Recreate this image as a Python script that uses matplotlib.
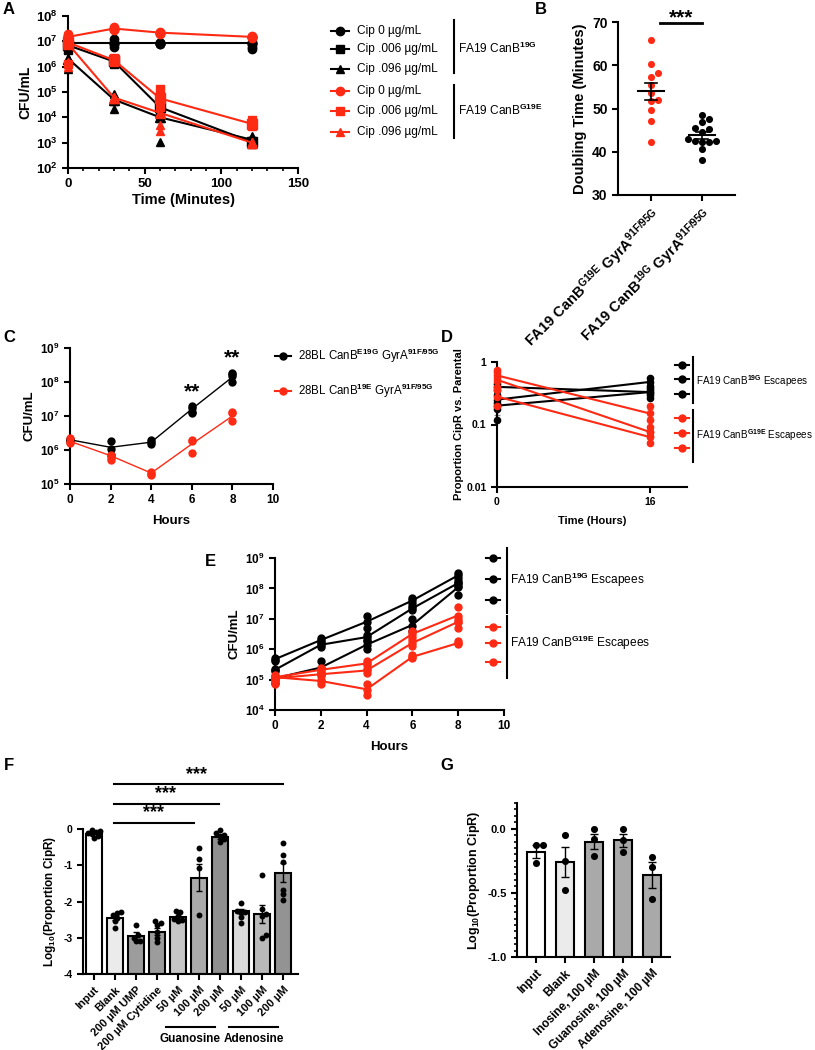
"""
Multi-panel figure: CanB / GyrA growth and CipR assays (panels A-G)
"""

import numpy as np
import matplotlib
matplotlib.use("Agg")
import matplotlib.pyplot as plt
from matplotlib.ticker import FixedLocator, FuncFormatter, NullLocator, MultipleLocator

plt.rcParams['font.family'] = ['Liberation Sans', 'DejaVu Sans']
plt.rcParams['font.weight'] = 'bold'
plt.rcParams['mathtext.fontset'] = 'custom'
plt.rcParams['mathtext.rm'] = 'Liberation Sans'
plt.rcParams['mathtext.bf'] = 'Liberation Sans:bold'
plt.rcParams['mathtext.it'] = 'Liberation Sans:italic'
plt.rcParams['axes.unicode_minus'] = False
plt.rcParams['axes.facecolor'] = 'none'

RED = '#fe2a14'
W, H = 815, 1050

# ---------------- Datos ----------------
# A: time-kill (CFU/mL)
a_time = [0, 30, 60, 120]
a_labels = ['Cip 0 µg/mL', 'Cip .006 µg/mL', 'Cip .096 µg/mL']
a_19g_mean = [[8.5e6, 8.5e6, 8.5e6, 8.5e6],
              [7.0e6, 1.6e6, 2.5e4, 1.05e3],
              [2.1e6, 5.0e4, 1.0e4, 1.3e3]]
a_19g_reps = [[[1.0e7, 8e6, 6e6], [1.2e7, 8e6, 6e6], [8.5e6, 8e6, 7.8e6], [1.5e7, 8e6, 6e6, 4.8e6]],
              [[8e6, 6e6, 4.5e6], [2e6, 1.6e6, 1.3e6], [4e4, 2.5e4, 1.5e4], [1.2e3, 1.0e3, 9e2]],
              [[2.2e6, 1.5e6, 8e5], [8e4, 4.5e4, 2.2e4], [1.2e4, 9e3, 1.1e3], [1.8e3, 1.3e3, 1.0e3]]]
a_g19e_mean = [[1.5e7, 3.2e7, 2.2e7, 1.5e7],
               [9.0e6, 1.8e6, 5.6e4, 5.5e3],
               [8.0e6, 6.0e4, 1.5e4, 1.0e3]]
a_g19e_reps = [[[1.9e7, 1.6e7, 1.4e7], [3.8e7, 3.2e7, 2.8e7], [2.4e7, 2.2e7, 2.0e7], [1.6e7, 1.5e7, 1.4e7]],
               [[1.2e7, 9e6, 1.3e6], [2.2e6, 1.8e6, 1.5e6], [1.3e5, 4.5e4, 2.5e4], [8e3, 6e3, 4.5e3]],
               [[1.5e6, 1e6, 8e6], [6.5e4, 6e4, 5.5e4], [1.5e4, 5e3, 3e3], [1.1e3, 1.0e3, 9e2]]]

# B: doubling time (minutes)
b_labels = ['FA19 CanB$^{\\mathbf{G19E}}$ GyrA$^{\\mathbf{91F/95G}}$',
            'FA19 CanB$^{\\mathbf{19G}}$ GyrA$^{\\mathbf{91F/95G}}$']
b_g19e = [65.8, 60.3, 58.3, 57.2, 55.5, 53.6, 52.0, 51.8, 49.7, 47.0, 42.3]
b_19g = [48.5, 47.6, 46.8, 45.4, 45.3, 44.6, 43.0, 42.6, 42.4, 42.3, 42.2, 40.6, 38.0]

# C: 28BL growth curves
c_hours = [0, 2, 4, 6, 8]
c_labels = ['28BL CanB$^{\\mathrm{E19G}}$ GyrA$^{\\mathrm{91F/95G}}$',
            '28BL CanB$^{\\mathrm{19E}}$ GyrA$^{\\mathrm{91F/95G}}$']
c_black_mean = [2.0e6, 1.2e6, 1.7e6, 1.6e7, 1.4e8]
c_black_reps = [[2.1e6, 1.9e6, 2.0e6], [1.8e6, 1.1e6, 7e5], [2.0e6, 1.7e6, 1.5e6],
                [2.0e7, 1.7e7, 1.3e7, 1.2e7], [1.9e8, 1.7e8, 1.5e8, 1.0e8]]
c_red_mean = [1.8e6, 6.8e5, 2.1e5, 1.5e6, 1.0e7]
c_red_reps = [[2.2e6, 1.7e6, 1.6e6], [7e5, 6e5, 5e5], [2.3e5, 2.0e5, 1.9e5],
              [2.0e6, 1.8e6, 8e5], [1.3e7, 1.2e7, 7e6]]

# D: proportion CipR vs parental, 3 escapees per background
d_time = [0, 16]
d_black_mean = [[0.40, 0.33], [0.25, 0.48], [0.20, 0.33]]
d_black_reps = [[[0.45, 0.40, 0.35], [0.36, 0.33, 0.30]],
                [[0.30, 0.25, 0.20], [0.55, 0.48, 0.42]],
                [[0.22, 0.18, 0.12], [0.38, 0.32, 0.27]]]
d_red_mean = [[0.61, 0.15], [0.52, 0.076], [0.28, 0.063]]
d_red_reps = [[[0.75, 0.62, 0.50], [0.20, 0.15, 0.12]],
              [[0.70, 0.55, 0.40], [0.09, 0.075, 0.065]],
              [[0.35, 0.28, 0.20], [0.075, 0.062, 0.05]]]

# E: escapee growth curves
e_hours = [0, 2, 4, 6, 8]
e_black_mean = [[4.7e5, 2.0e6, 8e6, 4e7, 2.7e8],
                [2.1e5, 1.4e6, 2.5e6, 2.2e7, 1.5e8],
                [1.1e5, 2.5e5, 1.4e6, 6.3e6, 1.1e8]]
e_black_reps = [[[5e5, 4.5e5, 4.2e5], [2.4e6, 2.0e6, 1.7e6], [1.2e7, 8e6, 5e6], [5e7, 4e7, 3.2e7], [3.2e8, 2.7e8, 2.2e8]],
                [[2.2e5, 2e5, 1.9e5], [1.6e6, 1.4e6, 1.2e6], [3e6, 2.5e6, 2e6], [2.6e7, 2.2e7, 1.9e7], [1.8e8, 1.5e8, 1.2e8]],
                [[1.2e5, 1.1e5, 8e4], [4e5, 2.5e5, 1.5e5], [1.8e6, 1.4e6, 1e6], [1e7, 6e6, 4e6], [1.5e8, 1.1e8, 6e7]]]
e_red_mean = [[1.2e5, 2.1e5, 3.4e5, 3.2e6, 1.3e7],
              [1.1e5, 1.5e5, 2.0e5, 1.6e6, 8e6],
              [1.2e5, 9e4, 4.8e4, 5.6e5, 1.6e6]]
e_red_reps = [[[1.4e5, 1.2e5, 1.0e5], [2.5e5, 2.1e5, 1.8e5], [4e5, 3.4e5, 3e5], [4e6, 3.2e6, 2.6e6], [2.5e7, 1.2e7, 8e6]],
              [[1.2e5, 1.1e5, 9e4], [1.7e5, 1.5e5, 1.3e5], [2.3e5, 2.0e5, 1.7e5], [2e6, 1.6e6, 1.3e6], [1e7, 8e6, 5e6]],
              [[1.3e5, 1.0e5, 7e4], [1e5, 9e4, 7e4], [7e4, 4.5e4, 3e4], [6.5e5, 5.6e5, 5e5], [1.8e6, 1.6e6, 1.5e6]]]

# F: log10 proportion CipR with nucleosides
f_labels = ['Input', 'Blank', '200 µM UMP', '200 µM Cytidine', '50 µM', '100 µM', '200 µM',
            '50 µM', '100 µM', '200 µM']
f_mean = [-0.13, -2.45, -2.95, -2.83, -2.44, -1.34, -0.22, -2.27, -2.35, -1.20]
f_sem = [0.02, 0.07, 0.10, 0.10, 0.05, 0.38, 0.05, 0.07, 0.25, 0.25]
f_points = [[-0.02, -0.05, -0.09, -0.12, -0.15, -0.19, -0.24],
            [-2.30, -2.33, -2.38, -2.45, -2.55, -2.72],
            [-2.66, -2.92, -3.00, -3.08, -3.10],
            [-2.55, -2.60, -2.65, -2.85, -3.00, -3.12],
            [-2.27, -2.30, -2.40, -2.48, -2.52, -2.55],
            [-0.52, -0.84, -1.08, -2.38],
            [-0.02, -0.12, -0.17, -0.20, -0.28, -0.35],
            [-2.05, -2.25, -2.28, -2.30, -2.42, -2.58],
            [-1.27, -2.20, -2.35, -2.40, -2.92, -3.00],
            [-0.38, -0.72, -0.92, -1.68, -1.80, -1.95]]
f_colors = ['#ffffff', '#ebebeb', '#9c9c9c', '#9c9c9c', '#c6c6c6', '#ababab', '#8f8f8f',
            '#dadada', '#b9b9b9', '#939393']

# G
g_labels = ['Input', 'Blank', 'Inosine, 100 µM', 'Guanosine, 100 µM', 'Adenosine, 100 µM']
g_mean = [-0.18, -0.26, -0.10, -0.09, -0.36]
g_sem = [0.05, 0.12, 0.06, 0.05, 0.10]
g_points = [[-0.13, -0.13, -0.27], [-0.05, -0.25, -0.48], [0.0, -0.08, -0.21],
            [0.0, -0.09, -0.18], [-0.22, -0.30, -0.55]]
g_colors = ['#ffffff', '#ebebeb', '#a9a9a9', '#a9a9a9', '#a9a9a9']


# ---------------- Helpers ----------------
fig = plt.figure(figsize=(W / 100, H / 100), dpi=100)


def px_axes(l, t, r, b):
    return fig.add_axes([l / W, 1 - b / H, (r - l) / W, (b - t) / H])


def estilo(ax, size=9, lw=1.5):
    for s in ['top', 'right']:
        ax.spines[s].set_visible(False)
    for s in ['left', 'bottom']:
        ax.spines[s].set_linewidth(lw)
    ax.tick_params(width=lw, length=4, labelsize=size)
    ax.tick_params(which='minor', width=1.2, length=2.5)


def log_fmt(ax, size):
    ax.yaxis.set_major_formatter(FuncFormatter(lambda v, p: r'$\mathbf{10^{%d}}$' % round(np.log10(v))))
    ax.yaxis.set_minor_locator(NullLocator())
    ax.tick_params(axis='y', labelsize=size)


def swarm(vals, ypx, xpx, d):
    vals = np.asarray(vals, float)
    offs = np.zeros(len(vals))
    placed = []
    for i in np.argsort(vals):
        y = vals[i] * ypx
        k = 0
        while True:
            cands = [0.0] if k == 0 else [k * d * 0.55, -k * d * 0.55]
            ok = None
            for c in cands:
                if all((c - px) ** 2 + (y - py) ** 2 >= d * d for px, py in placed):
                    ok = c
                    break
            if ok is not None:
                placed.append((ok, y))
                offs[i] = ok / xpx
                break
            k += 1
    return offs


ov = fig.add_axes([0, 0, 1, 1])
ov.set_xlim(0, W)
ov.set_ylim(H, 0)
ov.axis('off')
ov.set_zorder(10)


def leg_row(x, y, color, marker, half=9, ms=6):
    ov.plot([x - half, x + half], [y, y], color=color, lw=1.5)
    ov.plot(x, y, marker=marker, color=color, ms=ms)


# panel letters
for letra, x, y in [('A', 9, 9), ('B', 541, 9), ('C', 9, 338), ('D', 447, 338),
                    ('E', 210, 562), ('F', 9, 765), ('G', 447, 765)]:
    ov.text(x, y, letra, fontsize=12, fontweight='bold', ha='center', va='center')

# ---------------- A ----------------
ax = px_axes(68, 16, 298, 168)
estilo(ax, 9.5)
ax.set_yscale('log')
ax.set_ylim(1e2, 1e8)
ax.set_xlim(0, 150)
ax.yaxis.set_major_locator(FixedLocator([10.0 ** k for k in range(2, 9)]))
log_fmt(ax, 9.5)
ax.xaxis.set_major_locator(MultipleLocator(50))
ax.xaxis.set_minor_locator(MultipleLocator(10))
markers = ['o', 's', '^']
for color, means, reps in [('black', a_19g_mean, a_19g_reps), (RED, a_g19e_mean, a_g19e_reps)]:
    for m, mean, rr in zip(markers, means, reps):
        ax.plot(a_time, mean, color=color, marker=m, ms=6.5, lw=1.5, clip_on=False, zorder=3)
        for t, vals in zip(a_time, rr):
            ax.plot([t] * len(vals), vals, ls='none', marker=m, color=color, ms=6, clip_on=False, zorder=3)
ax.set_ylabel('CFU/mL', fontsize=10, fontweight='bold', labelpad=2)
ax.set_xlabel('Time (Minutes)', fontsize=10.5, fontweight='bold', labelpad=2)

# legend A
rows_a = [31, 49, 69, 91, 111, 132]
for i, y in enumerate(rows_a):
    color = 'black' if i < 3 else RED
    leg_row(340, y, color, markers[i % 3])
    ov.text(357, y, a_labels[i % 3], fontsize=8.6, fontweight='normal', va='center')
ov.plot([454, 454], [20, 73], color='black', lw=1.5)
ov.plot([454, 454], [85, 138], color='black', lw=1.5)
ov.text(458, 48, 'FA19 CanB$^{\\mathrm{19G}}$', fontsize=8.6, fontweight='normal', va='center')
ov.text(458, 110, 'FA19 CanB$^{\\mathrm{G19E}}$', fontsize=8.6, fontweight='normal', va='center')

# ---------------- B ----------------
ax = px_axes(618, 22, 735, 195)
estilo(ax, 10)
ax.set_ylim(30, 70)
ax.set_xlim(-0.65, 1.65)
ax.set_yticks([30, 40, 50, 60, 70])
for i, (vals, color) in enumerate([(b_g19e, RED), (b_19g, 'black')]):
    offs = swarm(vals, 4.33, 51, 6.2)
    ax.scatter(i + offs, vals, s=26, color=color, zorder=3, linewidths=0)
    mean = np.mean(vals)
    sem = np.std(vals, ddof=1) / np.sqrt(len(vals))
    ax.plot([i - 0.25, i + 0.25], [mean, mean], color='black', lw=1.5, zorder=4)
    ax.plot([i, i], [mean - sem, mean + sem], color='black', lw=1.2, zorder=4)
    for yy in [mean - sem, mean + sem]:
        ax.plot([i - 0.12, i + 0.12], [yy, yy], color='black', lw=1.2, zorder=4)
ax.set_xticks([0, 1])
ax.set_xticklabels(b_labels, rotation=45, ha='right', rotation_mode='anchor', fontsize=10.5)
ax.set_ylabel('Doubling Time (Minutes)', fontsize=10.5, fontweight='bold', labelpad=4)
ax.plot([0.18, 1.0], [69.8, 69.8], color='black', lw=2, clip_on=False)
ax.text(0.59, 71.0, '***', fontsize=15, fontweight='bold', ha='center', va='center')

# ---------------- C ----------------
ax = px_axes(70, 348, 273, 484)
estilo(ax, 8.5)
ax.set_yscale('log')
ax.set_ylim(1e5, 1e9)
ax.set_xlim(0, 10)
ax.yaxis.set_major_locator(FixedLocator([10.0 ** k for k in range(5, 10)]))
log_fmt(ax, 8.5)
ax.set_xticks([0, 2, 4, 6, 8, 10])
for color, mean, reps in [('black', c_black_mean, c_black_reps), (RED, c_red_mean, c_red_reps)]:
    ax.plot(c_hours, mean, color=color, lw=1, zorder=3, clip_on=False)
    for t, vals in zip(c_hours, reps):
        ax.plot([t] * len(vals), vals, ls='none', marker='o', color=color, ms=5, clip_on=False, zorder=3)
ax.text(6, 5.2e7, '**', fontsize=15, fontweight='bold', ha='center', va='center')
ax.text(8, 5.2e8, '**', fontsize=15, fontweight='bold', ha='center', va='center')
ax.set_ylabel('CFU/mL', fontsize=9.5, fontweight='bold', labelpad=3)
ax.set_xlabel('Hours', fontsize=9.5, fontweight='bold', labelpad=6)
for (y, color, lab) in [(356, 'black', c_labels[0]), (391, RED, c_labels[1])]:
    leg_row(283, y, color, 'o', half=8, ms=5)
    ov.text(298, y, lab, fontsize=8.3, fontweight='normal', va='center')

# ---------------- D ----------------
ax = px_axes(497, 362, 687, 487)
estilo(ax, 7.5)
ax.set_yscale('log')
ax.set_ylim(0.01, 1)
ax.set_xlim(0, 19.9)
ax.yaxis.set_major_locator(FixedLocator([0.01, 0.1, 1]))
ax.yaxis.set_major_formatter(FuncFormatter(lambda v, p: '%g' % v))
ax.yaxis.set_minor_locator(NullLocator())
ax.set_xticks(d_time)
for color, means, reps in [('black', d_black_mean, d_black_reps), (RED, d_red_mean, d_red_reps)]:
    for mean, rr in zip(means, reps):
        ax.plot(d_time, mean, color=color, lw=1.5, clip_on=False, zorder=3)
        for t, vals in zip(d_time, rr):
            sem = np.std(vals, ddof=1) / np.sqrt(len(vals))
            m = np.mean(vals)
            ax.errorbar(t, m, yerr=sem, color='#888888', lw=1, capsize=2.5, clip_on=False, zorder=2)
            ax.plot([t] * len(vals), vals, ls='none', marker='o', color=color, ms=4.5, clip_on=False, zorder=3)
ax.set_ylabel('Proportion CipR vs. Parental', fontsize=8, fontweight='bold', labelpad=2)
ax.set_xlabel('Time (Hours)', fontsize=8, fontweight='bold', labelpad=6)
for y in [365, 379, 394]:
    leg_row(682, y, 'black', 'o', half=7, ms=5)
for y in [418, 433, 448]:
    leg_row(682, y, RED, 'o', half=7, ms=5)
ov.plot([693, 693], [357, 403], color='black', lw=1.5)
ov.plot([693, 693], [410, 462], color='black', lw=1.5)
ov.text(696, 381, 'FA19 CanB$^{\\mathrm{19G}}$ Escapees', fontsize=7.1, fontweight='normal', va='center')
ov.text(696, 435, 'FA19 CanB$^{\\mathrm{G19E}}$ Escapees', fontsize=7.1, fontweight='normal', va='center')

# ---------------- E ----------------
ax = px_axes(275, 558, 504, 710)
estilo(ax, 8.5)
ax.set_yscale('log')
ax.set_ylim(1e4, 1e9)
ax.set_xlim(0, 10)
ax.yaxis.set_major_locator(FixedLocator([10.0 ** k for k in range(4, 10)]))
log_fmt(ax, 8.5)
ax.set_xticks([0, 2, 4, 6, 8, 10])
for color, means, reps in [('black', e_black_mean, e_black_reps), (RED, e_red_mean, e_red_reps)]:
    for mean, rr in zip(means, reps):
        ax.plot(e_hours, mean, color=color, lw=1.5, clip_on=False, zorder=3)
        for t, vals in zip(e_hours, rr):
            ax.plot([t] * len(vals), vals, ls='none', marker='o', color=color, ms=5, clip_on=False, zorder=3)
ax.set_ylabel('CFU/mL', fontsize=9.5, fontweight='bold', labelpad=3)
ax.set_xlabel('Hours', fontsize=9.5, fontweight='bold', labelpad=6)
for y in [558, 579, 600]:
    leg_row(493, y, 'black', 'o', half=7, ms=5)
for y in [627, 643, 662]:
    leg_row(493, y, RED, 'o', half=7, ms=5)
ov.plot([507, 507], [548, 613], color='black', lw=1.5)
ov.plot([507, 507], [616, 678], color='black', lw=1.5)
ov.text(510, 580, 'FA19 CanB$^{\\mathrm{19G}}$ Escapees', fontsize=8.6, fontweight='normal', va='center')
ov.text(510, 643, 'FA19 CanB$^{\\mathrm{G19E}}$ Escapees', fontsize=8.6, fontweight='normal', va='center')

# ---------------- F ----------------
ax = px_axes(83, 829, 298, 974)
estilo(ax, 7.5)
ax.set_ylim(-4, 0)
ax.set_xlim(-0.52, 9.71)
ax.set_yticks([0, -1, -2, -3, -4])
xf = np.arange(len(f_mean))
ax.bar(xf, np.array(f_mean) + 4, bottom=-4, width=0.76, color=f_colors, edgecolor='black', lw=1.5, zorder=2)
ax.errorbar(xf, f_mean, yerr=f_sem, fmt='none', ecolor='black', elinewidth=1, capsize=2.5, zorder=4)
for i, vals in enumerate(f_points):
    offs = swarm(vals, 36.25, 21, 3.8)
    ax.scatter(i + offs, vals, s=18, color='black', zorder=5, linewidths=0, clip_on=False)
ax.set_xticks(xf)
ax.set_xticklabels(f_labels, rotation=45, ha='right', rotation_mode='anchor', fontsize=8)
ax.set_ylabel('Log$_{\\mathbf{10}}$(Proportion CipR)', fontsize=8.5, fontweight='bold', labelpad=4)
for x0, x1, y in [(0.95, 9.0, 1.24), (0.95, 5.95, 0.69), (0.95, 4.75, 0.17)]:
    ax.plot([x0, x1], [y, y], color='black', lw=1.5, clip_on=False)
for x, y in [(4.9, 1.5), (3.4, 0.97), (2.85, 0.45)]:
    ax.text(x, y, '***', fontsize=13, fontweight='bold', ha='center', va='center')
ov.plot([166, 215], [1027, 1027], color='black', lw=1.5)
ov.plot([229, 278], [1027, 1027], color='black', lw=1.5)
ov.text(190, 1039, 'Guanosine', fontsize=8.5, fontweight='bold', ha='center', va='center')
ov.text(254, 1039, 'Adenosine', fontsize=8.5, fontweight='bold', ha='center', va='center')

# ---------------- G ----------------
ax = px_axes(517, 803, 670, 957)
estilo(ax, 8)
ax.set_ylim(-1, 0.2)
ax.set_xlim(-0.66, 4.62)
ax.set_yticks([0, -0.5, -1.0])
ax.yaxis.set_major_formatter(FuncFormatter(lambda v, p: '%.1f' % v))
ax.yaxis.set_minor_locator(MultipleLocator(0.05))
xg = np.arange(len(g_mean))
ax.bar(xg, np.array(g_mean) + 1, bottom=-1, width=0.61, color=g_colors, edgecolor='black', lw=1.5, zorder=2)
ax.errorbar(xg, g_mean, yerr=g_sem, fmt='none', ecolor='black', elinewidth=1, capsize=3, zorder=4)
for i, vals in enumerate(g_points):
    offs = swarm(vals, 128, 29, 6)
    ax.scatter(i + offs, vals, s=26, color='black', zorder=5, linewidths=0)
ax.set_xticks(xg)
ax.set_xticklabels(g_labels, rotation=45, ha='right', rotation_mode='anchor', fontsize=8.5)
ax.set_ylabel('Log$_{\\mathbf{10}}$(Proportion CipR)', fontsize=9, fontweight='bold', labelpad=4)

plt.savefig('out.png', dpi=100)
